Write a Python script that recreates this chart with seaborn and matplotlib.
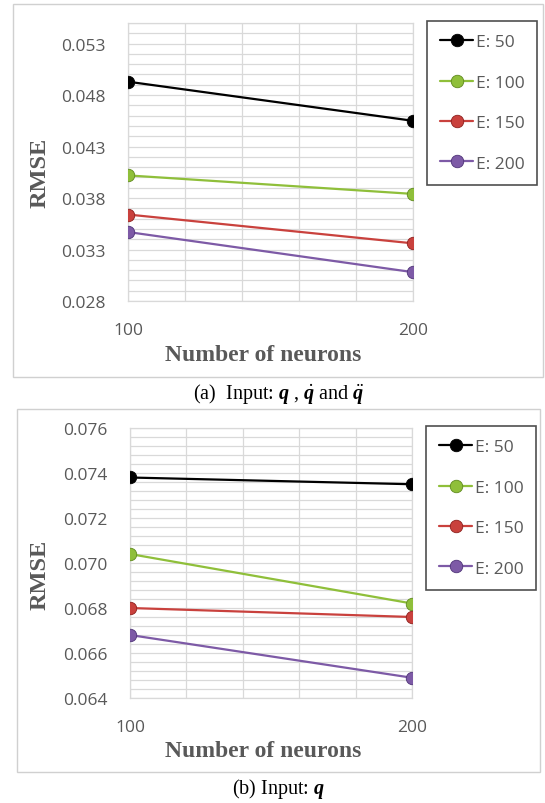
import matplotlib
matplotlib.use("Agg")
import matplotlib.pyplot as plt
from matplotlib.patches import Rectangle
from matplotlib.ticker import MultipleLocator, FixedLocator
import numpy as np
import pandas as pd
import seaborn as sns

# ---- data ----
neurons = [100, 200]
series_labels = ["E: 50", "E: 100", "E: 150", "E: 200"]

# (a) input: q, q-dot and q-double-dot
rmse_a_e50 = [0.0493, 0.0455]
rmse_a_e100 = [0.0402, 0.0384]
rmse_a_e150 = [0.0364, 0.0336]
rmse_a_e200 = [0.0347, 0.0308]

# (b) input: q
rmse_b_e50 = [0.0738, 0.0735]
rmse_b_e100 = [0.0704, 0.0682]
rmse_b_e150 = [0.0680, 0.0676]
rmse_b_e200 = [0.0668, 0.0649]

y_ticks_a = [0.028, 0.033, 0.038, 0.043, 0.048, 0.053]
y_ticks_b = [0.064, 0.066, 0.068, 0.070, 0.072, 0.074, 0.076]

captions = [r"(a)  Input: $\mathbfit{q}$ , $\dot{\mathbfit{q}}$ and $\ddot{\mathbfit{q}}$",
            r"(b) Input: $\mathbfit{q}$"]

colors = ["#000000", "#8fbf3a", "#c9413d", "#7d5aa6"]
edge_colors = ["#000000", "#5f8a1e", "#8e201d", "#4f3478"]


def long_frame(series):
    rows = []
    for label, vals in zip(series_labels, series):
        for n, v in zip(neurons, vals):
            rows.append({"neurons": n, "rmse": v, "epochs": label})
    return pd.DataFrame(rows)


df_a = long_frame([rmse_a_e50, rmse_a_e100, rmse_a_e150, rmse_a_e200])
df_b = long_frame([rmse_b_e50, rmse_b_e100, rmse_b_e150, rmse_b_e200])

sns.set_theme(style="white")
plt.rcParams["font.family"] = ["Open Sans", "DejaVu Sans"]
plt.rcParams["mathtext.fontset"] = "custom"
plt.rcParams["mathtext.rm"] = "Liberation Serif"
plt.rcParams["mathtext.it"] = "Liberation Serif:italic"
plt.rcParams["mathtext.bf"] = "Liberation Serif:bold"
plt.rcParams["mathtext.bfit"] = "Liberation Serif:italic:bold"

W, H = 545, 804
fig = plt.figure(figsize=(W / 100, H / 100), dpi=100)
fig.patch.set_facecolor("white")

TICK_GRAY = "#595959"
GRID = "#d9d9d9"


def px_axes(l, t, r, b):
    return [l / W, 1 - b / H, (r - l) / W, (b - t) / H]


panels = [
    dict(df=df_a, rect=px_axes(128, 24, 413, 302), ylim=(0.028, 0.055),
         yticks=y_ticks_a, minor=0.001, fmt="{:.3f}",
         frame=(13, 5, 543, 378), legend=(427, 22), caption_y=394,
         ylab_y=173, xlab_y=356),
    dict(df=df_b, rect=px_axes(130, 429, 412, 699), ylim=(0.064, 0.076),
         yticks=y_ticks_b, minor=0.0004, fmt="{:.3f}",
         frame=(17, 410, 540, 773), legend=(426, 427), caption_y=789,
         ylab_y=575, xlab_y=752),
]

for i, p in enumerate(panels):
    # outer chart-area border
    fl, ft, fr, fb = p["frame"]
    fig.patches.append(Rectangle((fl / W, 1 - fb / H), (fr - fl) / W, (fb - ft) / H,
                                 transform=fig.transFigure, fill=False,
                                 edgecolor="#d0d0d0", linewidth=1.0))

    ax = fig.add_axes(p["rect"])
    sns.lineplot(data=p["df"], x="neurons", y="rmse", hue="epochs",
                 hue_order=series_labels, palette=colors, marker="o",
                 markersize=9, linewidth=1.6, ax=ax, legend=False, zorder=3)
    for line, ec in zip(ax.lines, edge_colors):
        line.set_markeredgecolor(ec)
        line.set_markeredgewidth(0.6)

    ax.set_xlim(100, 200)
    ax.set_ylim(*p["ylim"])
    ax.xaxis.set_major_locator(FixedLocator(neurons))
    ax.xaxis.set_minor_locator(MultipleLocator(20))
    ax.set_yticks(p["yticks"])
    ax.set_yticklabels([p["fmt"].format(v) for v in p["yticks"]])
    ax.yaxis.set_minor_locator(MultipleLocator(p["minor"]))
    ax.grid(True, which="both", color=GRID, linewidth=0.9, zorder=0)
    ax.set_axisbelow(True)
    for s in ax.spines.values():
        s.set_color(GRID)
        s.set_linewidth(0.9)
    ax.tick_params(axis="both", which="both", length=0, labelsize=12.5,
                   colors=TICK_GRAY)
    ax.tick_params(axis="y", pad=16)
    ax.tick_params(axis="x", pad=15)
    ax.set_xlabel("")
    ax.set_ylabel("")

    # axis titles
    fig.text(40 / W, 1 - p["ylab_y"] / H, "RMSE", rotation=90, ha="center",
             va="center", family="Liberation Serif", fontweight="bold",
             fontsize=17.5, color=TICK_GRAY)
    fig.text(263 / W, 1 - p["xlab_y"] / H, "Number of neurons", ha="center",
             va="center", family="Liberation Serif", fontweight="bold",
             fontsize=17, color=TICK_GRAY)

    # legend
    handles = [plt.Line2D([], [], color=c, marker="o", markersize=9,
                          markeredgecolor=ec, markeredgewidth=0.6, linewidth=1.6)
               for c, ec in zip(colors, edge_colors)]
    lx, ly = p["legend"]
    leg = ax.legend(handles, series_labels, loc="upper left",
                    bbox_to_anchor=(lx / W, 1 - ly / H),
                    bbox_transform=fig.transFigure, frameon=True,
                    fancybox=False, fontsize=12.5, labelspacing=1.4,
                    handlelength=1.9, handletextpad=0.15, borderpad=0.75,
                    borderaxespad=0, labelcolor=TICK_GRAY)
    leg.get_frame().set_edgecolor("#222222")
    leg.get_frame().set_linewidth(1.2)

    # caption
    fig.text(279 / W, 1 - p["caption_y"] / H, captions[i], ha="center",
             va="center", family="Liberation Serif", fontsize=14.5,
             color="black")

fig.savefig("out.png", dpi=100, facecolor="white")
